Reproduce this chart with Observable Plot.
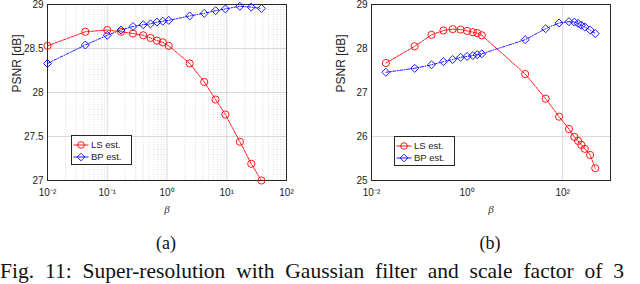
<!DOCTYPE html>
<html>
<head>
<meta charset="utf-8">
<script src="https://cdn.jsdelivr.net/npm/d3@7"></script>
<script src="https://cdn.jsdelivr.net/npm/@observablehq/plot@0.6"></script>
<style>
  html, body { margin: 0; padding: 0; background: #fff; }
  #wrap { position: relative; width: 640px; height: 284px; overflow: hidden; background: #fff; }
  #wrap > .panel { position: absolute; top: 0; }
  #labels { position: absolute; left: 0; top: 0; }
  .legend { position: absolute; width: 59px; height: 28px; border: 1px solid #262626; background: #fff; box-sizing: content-box; }
  .legend .row { position: absolute; left: 0; height: 12px; width: 59px; }
  .legend .row svg { position: absolute; left: 0; top: 0; }
  .legend .row span { position: absolute; left: 19px; top: 0; line-height: 12px;
     font: 9.5px 'Liberation Sans', Arial, sans-serif; color: #222; white-space: nowrap; }
</style>
</head>
<body>
<div id="wrap"></div>
<script>
// ---------- data ----------
// Panel (a)
const betaA = [0.01, 0.043, 0.1, 0.17, 0.27, 0.4, 0.53, 0.68, 0.85, 1.07, 2.4, 4.2, 6.5, 9.5, 16.6, 25.7, 38];
const lsA   = [28.53, 28.69, 28.71, 28.69, 28.67, 28.65, 28.62, 28.59, 28.57, 28.53, 28.33, 28.12, 27.92, 27.75, 27.44, 27.19, 27.00];
const bpA   = [28.33, 28.54, 28.65, 28.71, 28.75, 28.77, 28.78, 28.80, 28.81, 28.82, 28.87, 28.90, 28.93, 28.95, 28.98, 28.97, 28.955];
const xTicksA = [0.01, 0.1, 1, 10, 100];
const xTickLabelsA = ["10⁻²", "10⁻¹", "10⁰", "10¹", "10²"];
const yTicksA = [27, 27.5, 28, 28.5, 29];
const yTickLabelsA = ["27", "27.5", "28", "28.5", "29"];

// Panel (b)
const betaB = [0.02, 0.08, 0.18, 0.32, 0.5, 0.73, 1.0, 1.32, 1.63, 2.03, 16.4, 44, 84, 135, 175, 210, 245, 290, 375, 480];
const lsB   = [27.67, 28.05, 28.31, 28.41, 28.44, 28.43, 28.40, 28.37, 28.35, 28.30, 27.42, 26.86, 26.45, 26.17, 25.99, 25.90, 25.81, 25.72, 25.58, 25.28];
const bpB   = [27.46, 27.55, 27.63, 27.70, 27.75, 27.80, 27.82, 27.84, 27.86, 27.88, 28.20, 28.45, 28.58, 28.61, 28.60, 28.57, 28.53, 28.49, 28.42, 28.34];
const xTicksB = [0.01, 1, 100];
const xTickLabelsB = ["10⁻²", "10⁰", "10²"];
const yTicksB = [25, 26, 27, 28, 29];
const yTickLabelsB = ["25", "26", "27", "28", "29"];
const gridXB = [100];
const gridYB = [26];

const seriesNames = ["LS est.", "BP est."];
const yLabel = "PSNR [dB]";
const xLabel = "β";
const subLabels = ["(a)", "(b)"];
const caption = "Fig. 11: Super-resolution with Gaussian filter and scale factor of 3";

// ---------- helpers ----------
const RED = "#ff0000", BLUE = "#0000ff";
const lsDash = "3,1.2";
const bpDash = "3,1.5,1,1.5";

function minorTicks(lo, hi) {
  const out = [];
  for (let e = lo; e < hi; e++) for (let k = 2; k <= 9; k++) out.push(k * Math.pow(10, e));
  return out;
}

function panel(opts) {
  const {beta, ls, bp, xDomain, yDomain, xTicks, xLabels, yTicks, yLabels,
         majorX, majorY, minorX, marginLeft, marginRight} = opts;
  const rows = beta.map((b, i) => ({b, ls: ls[i], bp: bp[i]}));
  const xFmt = d => xLabels[xTicks.indexOf(d)] ?? "";
  const yFmt = d => yLabels[yTicks.indexOf(d)] ?? "";
  return Plot.plot({
    width: 320, height: 220,
    marginLeft, marginRight, marginTop: 4, marginBottom: 40,
    style: {fontFamily: "'Liberation Sans', Arial, sans-serif", fontSize: "10px", color: "#222", background: "transparent"},
    x: {type: "log", domain: xDomain},
    y: {domain: yDomain},
    marks: [
      Plot.ruleX(minorX, {stroke: "#cfcfcf", strokeDasharray: "1,1.5", strokeWidth: 0.8}),
      Plot.ruleX(majorX, {stroke: "#d4d4d4", strokeWidth: 0.9}),
      Plot.ruleY(majorY, {stroke: "#d4d4d4", strokeWidth: 0.9}),
      Plot.frame({stroke: "#262626", strokeWidth: 1}),
      Plot.axisX({ticks: xTicks, tickFormat: xFmt, tickSize: 0, tickPadding: 8, label: null, fontSize: 10}),
      Plot.axisY({ticks: yTicks, tickFormat: yFmt, tickSize: 0, tickPadding: 4, label: null, fontSize: 10}),
      Plot.text([yLabel], {frameAnchor: "left", rotate: -90, dx: -30, fontSize: 12, fill: "#222"}),
      Plot.text([xLabel], {frameAnchor: "bottom", dy: 32, fontSize: 11, fontStyle: "italic",
        fontFamily: "'Liberation Serif', 'DejaVu Serif', serif", fill: "#333"}),
      Plot.line(rows, {x: "b", y: "ls", stroke: RED, strokeWidth: 0.9, strokeDasharray: lsDash}),
      Plot.line(rows, {x: "b", y: "bp", stroke: BLUE, strokeWidth: 0.9, strokeDasharray: bpDash}),
      Plot.dot(rows, {x: "b", y: "ls", symbol: "circle", r: 3.6, stroke: RED, strokeWidth: 0.9, fill: "none"}),
      Plot.dot(rows, {x: "b", y: "bp", symbol: "diamond2", r: 3.6, stroke: BLUE, strokeWidth: 0.9, fill: "none"})
    ]
  });
}

const wrap = document.getElementById("wrap");

function addLegend(left, top) {
  const box = document.createElement("div");
  box.className = "legend";
  box.style.left = left + "px";
  box.style.top = top + "px";
  const entries = [
    {name: seriesNames[0], color: RED, sym: "circle"},
    {name: seriesNames[1], color: BLUE, sym: "diamond"}
  ];
  entries.forEach((e, i) => {
    const row = document.createElement("div");
    row.className = "row";
    row.style.top = (3 + i * 12) + "px";
    const cx = 9, cy = 6;
    const mark = e.sym === "circle"
      ? `<circle cx="${cx}" cy="${cy}" r="3.3" fill="none" stroke="${e.color}" stroke-width="0.9"/>`
      : `<path d="M${cx},${cy - 3.8}L${cx + 3.8},${cy}L${cx},${cy + 3.8}L${cx - 3.8},${cy}Z" fill="none" stroke="${e.color}" stroke-width="0.9"/>`;
    row.innerHTML = `<svg width="18" height="12"><line x1="1.5" x2="16.5" y1="${cy}" y2="${cy}" stroke="${e.color}" stroke-width="0.9"/>${mark}</svg>`;
    const span = document.createElement("span");
    span.textContent = e.name;
    row.appendChild(span);
    box.appendChild(row);
  });
  wrap.appendChild(box);
}

const chartA = panel({
  beta: betaA, ls: lsA, bp: bpA,
  xDomain: [0.01, 100], yDomain: [27, 29],
  xTicks: xTicksA, xLabels: xTickLabelsA, yTicks: yTicksA, yLabels: yTickLabelsA,
  majorX: xTicksA.slice(1, -1), majorY: yTicksA.slice(1, -1), minorX: minorTicks(-2, 2),
  marginLeft: 47, marginRight: 34
});
chartA.classList.add("panel");
chartA.style.left = "0px";
wrap.appendChild(chartA);

const chartB = panel({
  beta: betaB, ls: lsB, bp: bpB,
  xDomain: [0.01, 1000], yDomain: [25, 29],
  xTicks: xTicksB, xLabels: xTickLabelsB, yTicks: yTicksB, yLabels: yTickLabelsB,
  majorX: gridXB, majorY: gridYB, minorX: [],
  marginLeft: 51, marginRight: 30
});
chartB.classList.add("panel");
chartB.style.left = "320px";
wrap.appendChild(chartB);

addLegend(71, 135);
addLegend(394, 136);

// sub-figure labels and caption
const lab = d3.select(wrap).append("svg").attr("id", "labels")
  .attr("width", 640).attr("height", 284);
const serif = "'Liberation Serif', 'Times New Roman', serif";
lab.append("text").attr("x", 166).attr("y", 249).attr("text-anchor", "middle")
  .attr("font-family", serif).attr("font-size", 18).attr("fill", "#111").text(subLabels[0]);
lab.append("text").attr("x", 490).attr("y", 249).attr("text-anchor", "middle")
  .attr("font-family", serif).attr("font-size", 18).attr("fill", "#111").text(subLabels[1]);
lab.append("text").attr("x", 0).attr("y", 278).attr("font-family", serif).attr("font-size", 21.5)
  .attr("fill", "#111").attr("word-spacing", 5.5).text(caption);
</script>
</body>
</html>
